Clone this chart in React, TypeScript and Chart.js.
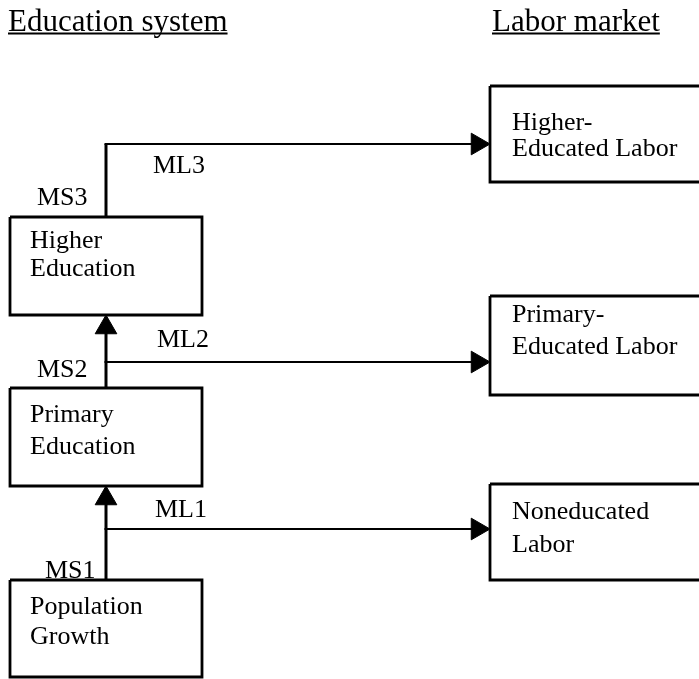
import { useEffect, useRef } from 'react';
import { Chart, registerables } from 'chart.js';

Chart.register(...registerables);

// Diagram coordinate space: x 0..699, y 0..679 (top-down)
const boxLabels = [
  ['Population', 'Growth'],
  ['Primary', 'Education'],
  ['Higher', 'Education'],
  ['Noneducated', 'Labor'],
  ['Primary-', 'Educated Labor'],
  ['Higher-', 'Educated Labor'],
];
const boxLeft = [10, 10, 10, 490, 490, 490];
const boxRight = [202, 202, 202, 708, 708, 708];
const boxTop = [580, 388, 217, 484, 296, 86];
const boxBottom = [677, 486, 315, 580, 395, 182];
const boxTextX = [30, 30, 30, 512, 512, 512];
const boxLine1Y = [614, 422, 248, 519, 322, 130];
const boxLine2Y = [644, 454, 276, 552, 354, 156];

const spineX = 106;
const flowLevels = [529, 362, 144];
const mlLabels = ['ML1', 'ML2', 'ML3'];
const mlX = [155, 157, 153];
const mlY = [517, 347, 173];
const msLabels = ['MS1', 'MS2', 'MS3'];
const msX = [45, 37, 37];
const msY = [578, 377, 205];
const headerLabels = ['Education system', 'Labor market'];
const headerX = [8, 492];
const headerY = [31, 31];

const ARROW_R = 12.5;
const SERIF = '"Liberation Serif", "Times New Roman", serif';

export default function App() {
  const ref = useRef<HTMLCanvasElement | null>(null);

  useEffect(() => {
    const canvas = ref.current;
    if (!canvas) return;

    const datasets: any[] = [];

    // boxes
    for (let i = 0; i < boxLabels.length; i++) {
      datasets.push({
        type: 'line',
        data: [
          { x: boxLeft[i], y: boxTop[i] },
          { x: boxRight[i], y: boxTop[i] },
          { x: boxRight[i], y: boxBottom[i] },
          { x: boxLeft[i], y: boxBottom[i] },
          { x: boxLeft[i], y: boxTop[i] },
        ],
        borderColor: '#000',
        borderWidth: 2.8,
        pointRadius: 0,
        fill: false,
        tension: 0,
        borderJoinStyle: 'miter',
      });
    }

    // vertical spine segments (MS)
    const verticals = [
      [{ x: spineX, y: boxTop[0] }, { x: spineX, y: boxBottom[1] + ARROW_R }],
      [{ x: spineX, y: boxTop[1] }, { x: spineX, y: boxBottom[2] + ARROW_R }],
      [{ x: spineX, y: boxTop[2] }, { x: spineX, y: flowLevels[2] }],
    ];
    verticals.forEach((d) =>
      datasets.push({
        type: 'line',
        data: d,
        borderColor: '#000',
        borderWidth: 3,
        pointRadius: 0,
        fill: false,
      })
    );

    // horizontal flows (ML)
    for (let i = 0; i < flowLevels.length; i++) {
      datasets.push({
        type: 'line',
        data: [
          { x: spineX - 1.5, y: flowLevels[i] },
          { x: boxLeft[3 + i] - ARROW_R, y: flowLevels[i] },
        ],
        borderColor: '#000',
        borderWidth: 2,
        pointRadius: 0,
        fill: false,
      });
    }

    // arrowheads
    const heads = [
      { x: spineX, y: boxBottom[1] + ARROW_R, r: 0 },
      { x: spineX, y: boxBottom[2] + ARROW_R, r: 0 },
      ...flowLevels.map((y, i) => ({ x: boxLeft[3 + i] - ARROW_R, y, r: 90 })),
    ];
    datasets.push({
      type: 'scatter',
      data: heads.map((h) => ({ x: h.x, y: h.y })),
      pointStyle: 'triangle',
      pointRotation: heads.map((h) => h.r),
      pointRadius: ARROW_R,
      pointBackgroundColor: '#000',
      pointBorderColor: '#000',
      pointBorderWidth: 1,
    });

    const textPlugin = {
      id: 'diagramText',
      afterDatasetsDraw(chart: any) {
        const ctx = chart.ctx as CanvasRenderingContext2D;
        const xs = chart.scales.x;
        const ys = chart.scales.y;
        ctx.save();
        ctx.fillStyle = '#000';
        ctx.textBaseline = 'alphabetic';
        ctx.textAlign = 'left';

        // headers with underline
        ctx.font = `31px ${SERIF}`;
        for (let i = 0; i < headerLabels.length; i++) {
          const px = xs.getPixelForValue(headerX[i]);
          const py = ys.getPixelForValue(headerY[i]);
          ctx.fillText(headerLabels[i], px, py);
          const w = ctx.measureText(headerLabels[i]).width;
          ctx.fillRect(px, py + 1.5, w, 2);
        }

        ctx.font = `26px ${SERIF}`;
        for (let i = 0; i < boxLabels.length; i++) {
          const px = xs.getPixelForValue(boxTextX[i]);
          ctx.fillText(boxLabels[i][0], px, ys.getPixelForValue(boxLine1Y[i]));
          ctx.fillText(boxLabels[i][1], px, ys.getPixelForValue(boxLine2Y[i]));
        }
        for (let i = 0; i < mlLabels.length; i++) {
          ctx.fillText(mlLabels[i], xs.getPixelForValue(mlX[i]), ys.getPixelForValue(mlY[i]));
          ctx.fillText(msLabels[i], xs.getPixelForValue(msX[i]), ys.getPixelForValue(msY[i]));
        }
        ctx.restore();
      },
    };

    const chart = new Chart(canvas, {
      type: 'scatter',
      data: { datasets },
      options: {
        animation: false,
        responsive: false,
        maintainAspectRatio: false,
        devicePixelRatio: 1,
        layout: { padding: 0, autoPadding: false },
        plugins: { legend: { display: false }, tooltip: { enabled: false } },
        events: [],
        scales: {
          x: { type: 'linear', min: 0, max: 699, display: false },
          y: { type: 'linear', min: 0, max: 679, reverse: true, display: false },
        },
      },
      plugins: [textPlugin],
    });

    return () => chart.destroy();
  }, []);

  return (
    <div
      style={{
        position: 'fixed',
        left: 0,
        top: 0,
        width: 699,
        height: 679,
        background: '#fff',
      }}
    >
      <canvas ref={ref} width={699} height={679} style={{ display: 'block', width: 699, height: 679 }} />
    </div>
  );
}
